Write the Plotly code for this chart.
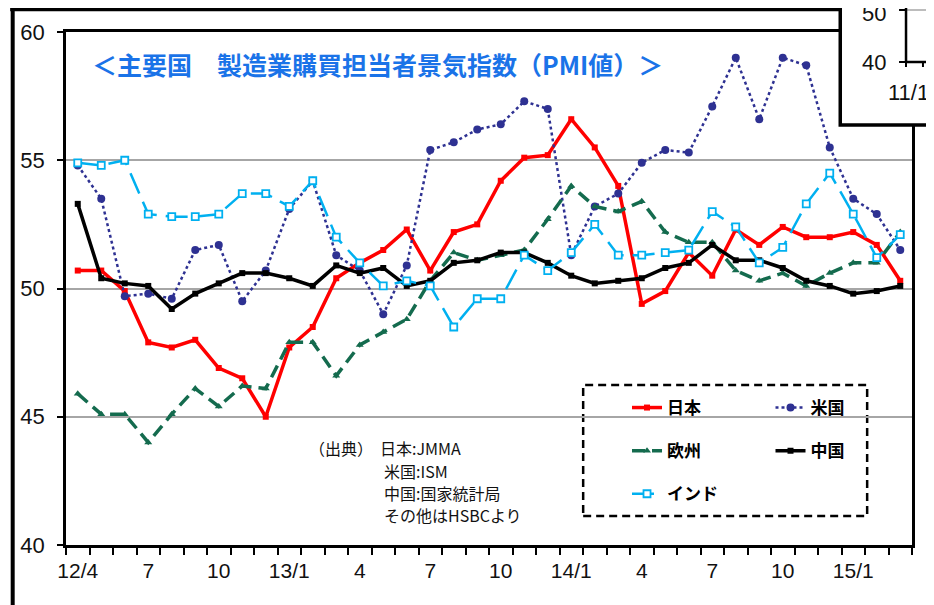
import plotly.graph_objects as go

# ---- data (monthly, 2012/4 - 2015/3) ----
months = ["12/4", "12/5", "12/6", "12/7", "12/8", "12/9", "12/10", "12/11", "12/12",
          "13/1", "13/2", "13/3", "13/4", "13/5", "13/6", "13/7", "13/8", "13/9",
          "13/10", "13/11", "13/12", "14/1", "14/2", "14/3", "14/4", "14/5", "14/6",
          "14/7", "14/8", "14/9", "14/10", "14/11", "14/12", "15/1", "15/2", "15/3"]
tick_labels = ["12/4", "7", "10", "13/1", "4", "7", "10", "14/1", "4", "7", "10", "15/1"]

japan = [50.7, 50.7, 49.9, 47.9, 47.7, 48.0, 46.9, 46.5, 45.0, 47.7, 48.5, 50.4,
         51.0, 51.5, 52.3, 50.7, 52.2, 52.5, 54.2, 55.1, 55.2, 56.6, 55.5, 54.0,
         49.4, 49.9, 51.4, 50.5, 52.3, 51.7, 52.4, 52.0, 52.0, 52.2, 51.7, 50.3]
usa = [54.8, 53.5, 49.7, 49.8, 49.6, 51.5, 51.7, 49.5, 50.7, 53.1, 54.2, 51.3,
       50.7, 49.0, 50.9, 55.4, 55.7, 56.2, 56.4, 57.3, 57.0, 51.3, 53.2, 53.7,
       54.9, 55.4, 55.3, 57.1, 59.0, 56.6, 59.0, 58.7, 55.5, 53.5, 52.9, 51.5]
europe = [45.9, 45.1, 45.1, 44.0, 45.1, 46.1, 45.4, 46.2, 46.1, 47.9, 47.9, 46.6,
          47.8, 48.3, 48.8, 50.3, 51.4, 51.1, 51.3, 51.5, 52.7, 54.0, 53.2, 53.0,
          53.4, 52.2, 51.8, 51.8, 50.7, 50.3, 50.6, 50.1, 50.6, 51.0, 51.0, 52.2]
china = [53.3, 50.4, 50.2, 50.1, 49.2, 49.8, 50.2, 50.6, 50.6, 50.4, 50.1, 50.9,
         50.6, 50.8, 50.1, 50.3, 51.0, 51.1, 51.4, 51.4, 51.0, 50.5, 50.2, 50.3,
         50.4, 50.8, 51.0, 51.7, 51.1, 51.1, 50.8, 50.3, 50.1, 49.8, 49.9, 50.1]
india = [54.9, 54.8, 55.0, 52.9, 52.8, 52.8, 52.9, 53.7, 53.7, 53.2, 54.2, 52.0,
         51.0, 50.1, 50.3, 50.1, 48.5, 49.6, 49.6, 51.3, 50.7, 51.4, 52.5, 51.3,
         51.3, 51.4, 51.5, 53.0, 52.4, 51.0, 51.6, 53.3, 54.5, 52.9, 51.2, 52.1]

x = list(range(len(months)))
tick_pos = [i for i, m in enumerate(months) if (int(m.split("/")[1]) - 1) % 3 == 0]

# the page body adds an 8px offset; the figure is sized so the plot lands where
# the reference has it (plot area x 63..912, y 32..545 in window pixels)
OFF = 8
W, H = 934 - OFF, 605 - OFF
L, R, T, B = 63 - OFF, 22, 32 - OFF, 60
PW, PH = W - L - R, H - T - B


def px(v):  # window pixel x -> paper
    return (v - OFF - L) / PW


def py(v):  # window pixel y -> paper
    return (H - B - (v - OFF)) / PH


JP = "Noto Sans CJK JP"
NUM = "Liberation Sans, Arial, sans-serif"

fig = go.Figure()

fig.add_trace(go.Scatter(x=x, y=japan, name="日本", mode="lines+markers",
                         line=dict(color="#FF0000", width=3.5),
                         marker=dict(symbol="square", size=6, color="#FF0000"),
                         legend="legend", legendgroup="jp", hovertext=months))
fig.add_trace(go.Scatter(x=x, y=usa, name="米国", mode="lines+markers",
                         line=dict(color="#2E3192", width=2.5, dash="dot"),
                         marker=dict(symbol="circle", size=8, color="#2E3192"),
                         legend="legend2", legendgroup="us", hovertext=months))
fig.add_trace(go.Scatter(x=x, y=europe, name="欧州", mode="lines+markers",
                         line=dict(color="#146B4E", width=3.5, dash="13px,7px"),
                         marker=dict(symbol="triangle-up", size=7, color="#146B4E"),
                         legend="legend", legendgroup="eu", hovertext=months))
fig.add_trace(go.Scatter(x=x, y=china, name="中国", mode="lines+markers",
                         line=dict(color="#000000", width=3.5),
                         marker=dict(symbol="square", size=6, color="#000000"),
                         legend="legend2", legendgroup="cn", hovertext=months))
fig.add_trace(go.Scatter(x=x, y=india, name="インド", mode="lines+markers",
                         line=dict(color="#00B0F0", width=2.5, dash="22px,9px"),
                         marker=dict(symbol="square", size=7, color="#FFFFFF",
                                     line=dict(color="#00B0F0", width=1.8)),
                         legend="legend", legendgroup="in", hovertext=months))

legend_font = dict(family=JP, size=17, color="#000000", weight="bold")
leg_common = dict(font=legend_font, bgcolor="rgba(0,0,0,0)", borderwidth=0,
                  tracegroupgap=18, orientation="v", xanchor="left", yanchor="top",
                  traceorder="grouped")

fig.update_layout(
    width=W, height=H,
    margin=dict(l=L, r=R, t=T, b=B, pad=0),
    paper_bgcolor="white", plot_bgcolor="white",
    showlegend=True,
    legend=dict(x=px(626), y=py(390), **leg_common),
    legend2=dict(x=px(770), y=py(390), **leg_common),
    xaxis=dict(
        range=[-0.5, len(months) - 0.5],
        tickmode="array", tickvals=tick_pos, ticktext=tick_labels,
        ticks="", ticklabelstandoff=5,
        tickfont=dict(family=NUM, size=21, color="#111111"),
        showgrid=False, zeroline=False,
        showline=True, linecolor="black", linewidth=2.5, mirror=True,
        minor=dict(tickmode="array", tickvals=[i - 0.5 for i in range(len(months) + 1)],
                   ticks="outside", ticklen=7, tickwidth=2, tickcolor="black", showgrid=False),
    ),
    yaxis=dict(
        range=[40, 60], tickmode="array", tickvals=[40, 45, 50, 55, 60],
        ticks="outside", ticklen=6, tickwidth=2, tickcolor="black",
        ticklabelstandoff=8,
        tickfont=dict(family=NUM, size=22, color="#111111"),
        showgrid=True, gridcolor="#A6A6A6", gridwidth=1.5, zeroline=False,
        showline=True, linecolor="black", linewidth=2.5, mirror=True,
    ),
)

shapes = []
# legend dashed frame
shapes.append(dict(type="rect", xref="paper", yref="paper",
                   x0=px(582), x1=px(867), y0=py(516), y1=py(385),
                   line=dict(color="black", width=2.5, dash="8px,5px"),
                   fillcolor="white", layer="between"))
# outer frame of the slide
shapes.append(dict(type="line", xref="paper", yref="paper",
                   x0=px(9.5), x1=px(9.5), y0=py(-10), y1=py(H + 20),
                   line=dict(color="black", width=4), layer="above"))
shapes.append(dict(type="line", xref="paper", yref="paper",
                   x0=px(7), x1=px(845), y0=py(9.5), y1=py(9.5),
                   line=dict(color="black", width=3.5), layer="above"))
# overlapping inset box (top right)
shapes.append(dict(type="rect", xref="paper", yref="paper",
                   x0=px(840), x1=px(W + 40), y0=py(125), y1=py(-20),
                   line=dict(color="black", width=3.5), fillcolor="white", layer="above"))
shapes.append(dict(type="line", xref="paper", yref="paper",
                   x0=px(906), x1=px(W + 20), y0=py(10), y1=py(10),
                   line=dict(color="#A6A6A6", width=1.5), layer="above"))
shapes.append(dict(type="line", xref="paper", yref="paper",
                   x0=px(906), x1=px(906), y0=py(63), y1=py(-5),
                   line=dict(color="black", width=2.5), layer="above"))
shapes.append(dict(type="line", xref="paper", yref="paper",
                   x0=px(906), x1=px(W + 20), y0=py(62), y1=py(62),
                   line=dict(color="black", width=2.5), layer="above"))
for ty in (10, 62):
    shapes.append(dict(type="line", xref="paper", yref="paper",
                       x0=px(899), x1=px(906), y0=py(ty), y1=py(ty),
                       line=dict(color="black", width=2), layer="above"))
for tx in (906, 923):
    shapes.append(dict(type="line", xref="paper", yref="paper",
                       x0=px(tx), x1=px(tx), y0=py(62), y1=py(67),
                       line=dict(color="black", width=2), layer="above"))
fig.update_layout(shapes=shapes)

ann = []
ann.append(dict(text="＜主要国　製造業購買担当者景気指数（PMI値）＞", xref="paper", yref="paper",
                x=px(87), y=py(64), xanchor="left", yanchor="middle", showarrow=False,
                font=dict(family=JP, size=25, color="#1A73E8", weight="bold")))
src_font = dict(family=JP, size=16, color="#111111")
ann.append(dict(text="（出典）", xref="paper", yref="paper", x=px(305), y=py(448),
                xanchor="left", yanchor="middle", showarrow=False, font=src_font))
src_lines = [("日本:JMMA", 376, 448), ("米国:ISM", 380, 471),
             ("中国:国家統計局", 380, 493), ("その他はHSBCより", 380, 515)]
for t, sx, sy in src_lines:
    ann.append(dict(text=t, xref="paper", yref="paper", x=px(sx), y=py(sy),
                    xanchor="left", yanchor="middle", showarrow=False, font=src_font))
inset_font = dict(family=NUM, size=22, color="#111111")
ann.append(dict(text="50", xref="paper", yref="paper", x=px(888), y=py(14),
                xanchor="right", yanchor="middle", showarrow=False, font=inset_font))
ann.append(dict(text="40", xref="paper", yref="paper", x=px(888), y=py(62),
                xanchor="right", yanchor="middle", showarrow=False, font=inset_font))
ann.append(dict(text="11/1", xref="paper", yref="paper", x=px(886), y=py(92),
                xanchor="left", yanchor="middle", showarrow=False, font=inset_font))
fig.update_layout(annotations=ann)

fig.write_html("out.html")
